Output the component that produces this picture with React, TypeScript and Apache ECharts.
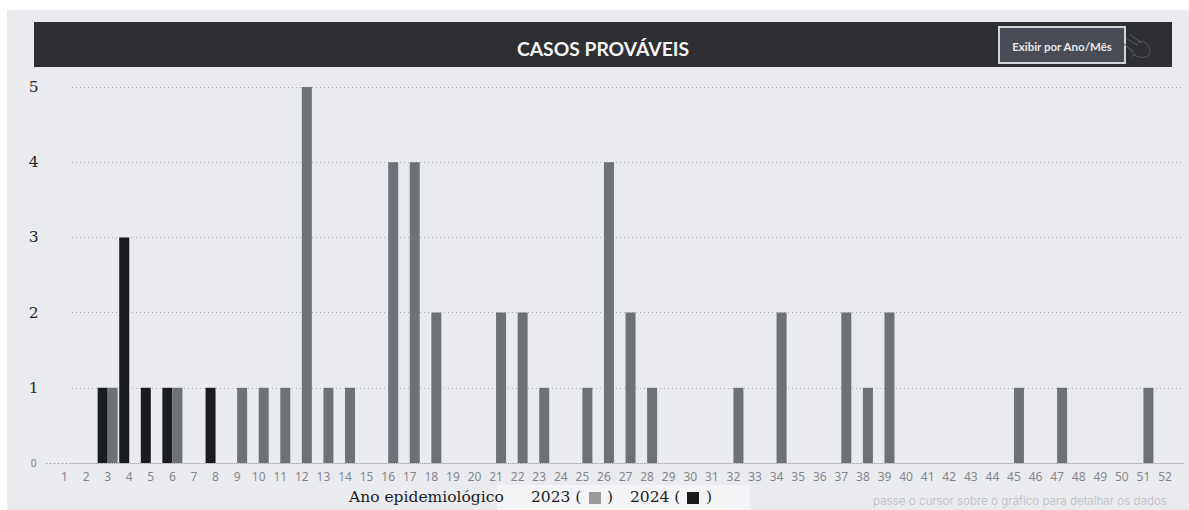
import React, { useEffect, useRef } from "react";
import * as echarts from "echarts";

const weeks = Array.from({ length: 52 }, (_, i) => String(i + 1));
const values2023 = [
  null, null, 1, null, null, 1, null, null, 1, 1, 1, 5, 1, 1, null, 4, 4, 2, null, null,
  2, 2, 1, null, 1, 4, 2, 1, null, null, null, 1, null, 2, null, null, 2, 1, 2, null,
  null, null, null, null, 1, null, 1, null, null, null, 1, null,
];
const values2024 = [
  null, null, 1, 3, 1, 1, null, 1, null, null, null, null, null, null, null, null, null, null, null, null,
  null, null, null, null, null, null, null, null, null, null, null, null, null, null, null, null, null, null, null, null,
  null, null, null, null, null, null, null, null, null, null, null, null,
];
const titleText = "CASOS PROVÁVEIS";
const buttonText = "Exibir por Ano/Mês";
const legendLabel = "Ano epidemiológico";
const hintText = "passe o cursor sobre o gráfico para detalhar os dados";

const handPath =
  "M4 6 L14 12 C16 8 20 7 23 10 C27 14 28 19 25 23 C21 25 15 25 12 22 L4 13 M1 11 L10 18 M7 1 L17 9 M10 4 L19 10 M12 22 C10 22 9 23 8 24";
echarts.graphic.registerShape("hand", echarts.graphic.extendPath(handPath as any, {}) as any);

export default function App() {
  const ref = useRef<HTMLDivElement>(null);
  useEffect(() => {
    const chart = echarts.init(ref.current!, undefined, { renderer: "svg" });
    const serif = "'DejaVu Serif', serif";
    const sans = "'Noto Sans', sans-serif";
    const hidden = { show: false };
    const legendFont = `15.5px ${serif}`;
    chart.setOption({
      animation: false,
      backgroundColor: "#ffffff",
      title: {
        text: titleText,
        left: 603,
        top: 34,
        textAlign: "center",
        textStyle: { color: "#f4f4f6", fontFamily: "Lato, sans-serif", fontWeight: 700, fontSize: 19.3 },
        padding: [5, 5, 5, 0],
      },
      grid: [
        { left: 53.7, width: 1122.1, top: 87, height: 376 },
        { left: 72, width: 1111, top: 87, height: 376 },
        { left: 46, width: 1137, top: 87, height: 376 },
      ],
      xAxis: [
        {
          type: "category",
          gridIndex: 0,
          data: weeks,
          axisLine: hidden,
          axisTick: hidden,
          splitLine: hidden,
          axisLabel: { interval: 0, color: "#85878c", fontSize: 12, fontFamily: sans, margin: 7 },
        },
        { type: "value", gridIndex: 1, min: 0, max: 1, show: false },
        {
          type: "value",
          gridIndex: 2,
          min: 0,
          max: 1,
          axisLabel: hidden,
          axisTick: hidden,
          splitLine: hidden,
          axisLine: { show: true, lineStyle: { color: "#a9abaf", type: [1, 3], width: 1 } },
        },
      ],
      yAxis: [
        {
          type: "value",
          gridIndex: 0,
          min: 0,
          max: 5,
          interval: 1,
          axisLine: hidden,
          axisTick: hidden,
          splitLine: hidden,
          axisLabel: {
            align: "center",
            margin: 20,
            formatter: (v: number) => (v === 0 ? `{z|${v}}` : `{n|${v}}`),
            rich: {
              z: { color: "#85878b", fontSize: 10, fontFamily: sans },
              n: { color: "#26272a", fontSize: 15.5, fontFamily: serif },
            },
          },
        },
        {
          type: "value",
          gridIndex: 1,
          min: 0,
          max: 5,
          interval: 1,
          axisLine: hidden,
          axisTick: hidden,
          axisLabel: hidden,
          splitLine: { show: true, lineStyle: { color: "#a9abaf", type: [1, 3], width: 1 } },
        },
        { type: "value", gridIndex: 2, min: 0, max: 5, show: false },
      ],
      series: [
        {
          name: "2024",
          type: "bar",
          xAxisIndex: 0,
          yAxisIndex: 0,
          data: values2024,
          barWidth: 10,
          barGap: "0%",
          itemStyle: { color: "#1b1c1f" },
          z: 3,
        },
        {
          name: "2023",
          type: "bar",
          xAxisIndex: 0,
          yAxisIndex: 0,
          data: values2023,
          barWidth: 10,
          barGap: "0%",
          itemStyle: { color: "#6f7178" },
          z: 3,
        },
      ],
      graphic: [
        { type: "rect", z: -10, shape: { x: 7, y: 10, width: 1182, height: 500 }, style: { fill: "#eaebef" } },
        { type: "rect", z: -9, shape: { x: 497, y: 485, width: 253, height: 25 }, style: { fill: "#f4f4f6" } },
        { type: "rect", z: -8, shape: { x: 34, y: 22, width: 1138, height: 45 }, style: { fill: "#2e2f33" } },
        {
          type: "rect",
          z: 5,
          shape: { x: 999, y: 27, width: 126, height: 36 },
          style: { fill: "#494c54", stroke: "#d4d5d9", lineWidth: 2 },
        },
        {
          type: "text",
          z: 6,
          x: 1062,
          y: 46,
          style: {
            text: buttonText,
            fill: "#e6e6ea",
            font: "700 11.5px Lato, sans-serif",
            align: "center",
            verticalAlign: "middle",
          },
        },
        {
          type: "hand",
          z: 5,
          x: 1123,
          y: 33,
          style: { fill: "none", stroke: "#55575d", lineWidth: 1 },
        },
        { type: "text", x: 349, y: 497, style: { text: legendLabel, fill: "#1d1d1f", font: legendFont, verticalAlign: "middle" } },
        { type: "text", x: 531, y: 497, style: { text: "2023 (", fill: "#1d1d1f", font: legendFont, verticalAlign: "middle" } },
        { type: "rect", shape: { x: 589, y: 492, width: 12, height: 12 }, style: { fill: "#999999" } },
        { type: "text", x: 607, y: 497, style: { text: ")", fill: "#1d1d1f", font: legendFont, verticalAlign: "middle" } },
        { type: "text", x: 630, y: 497, style: { text: "2024 (", fill: "#1d1d1f", font: legendFont, verticalAlign: "middle" } },
        { type: "rect", shape: { x: 687, y: 492, width: 12, height: 12 }, style: { fill: "#1b1b1d" } },
        { type: "text", x: 706, y: 497, style: { text: ")", fill: "#1d1d1f", font: legendFont, verticalAlign: "middle" } },
        {
          type: "text",
          x: 873,
          y: 501,
          style: { text: hintText, fill: "#bcbdc1", font: "300 11.7px Inter, sans-serif", verticalAlign: "middle" },
        },
      ],
    });
    return () => chart.dispose();
  }, []);
  return <div ref={ref} style={{ position: "absolute", left: 0, top: 0, width: 1189, height: 510 }} />;
}
